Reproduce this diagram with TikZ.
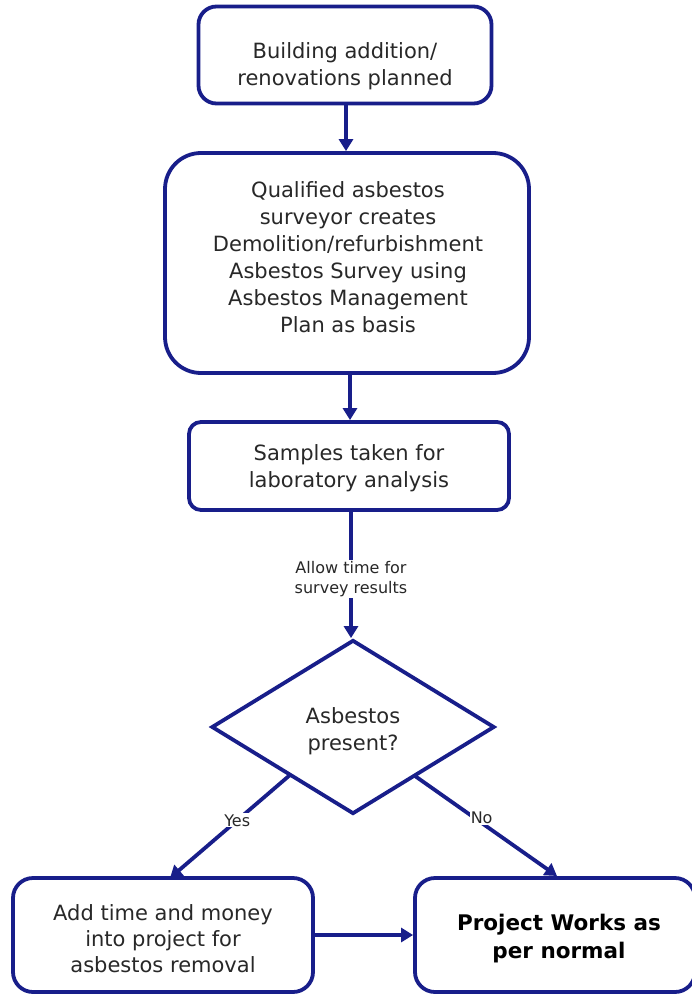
\documentclass[tikz,border=0pt]{standalone}
\usepackage{fontspec}
\setmainfont{DejaVu Sans}
\usetikzlibrary{arrows.meta,shapes.geometric}
\definecolor{navy}{RGB}{24,30,138}
\definecolor{txt}{RGB}{40,40,40}
\begin{document}
\begin{tikzpicture}[x=1pt,y=-1pt,
  box/.style={draw=navy,line width=3.8pt,fill=white,inner sep=0pt},
  btext/.style={text=txt,align=center,inner sep=0pt,
    font=\fontsize{21}{27}\selectfont},
  conn/.style={draw=navy,line width=3.8pt,-{Triangle[length=12pt,width=14pt]}},
  lbl/.style={fill=white,text=txt,align=center,inner sep=1pt,
    font=\fontsize{16}{20}\selectfont}]
\useasboundingbox (0,0) rectangle (691,995);
% shapes
\node[box,rounded corners=18pt,minimum width=293pt,minimum height=97pt] (b1) at (345,55) {};
\node[box,rounded corners=36pt,minimum width=364pt,minimum height=220pt] (b2) at (347,263) {};
\node[box,rounded corners=12pt,minimum width=320pt,minimum height=88pt] (b3) at (349,466) {};
\node[box,diamond,minimum width=283pt,minimum height=174pt] (d) at (353,727) {};
\node[box,rounded corners=20pt,minimum width=300pt,minimum height=114pt] (b4) at (163,935) {};
\node[box,rounded corners=20pt,minimum width=280pt,minimum height=114pt] (b5) at (555,935) {};
% texts
\node[btext] (t1) at (345,66) {Building addition/\\renovations planned};
\node[btext] (t2) at (348,257) {Qualified asbestos\\surveyor creates\\Demolition/refurbishment\\Asbestos Survey using\\Asbestos Management\\Plan as basis};
\node[btext] (t3) at (349,468) {Samples taken for\\laboratory analysis};
\node[btext] (td) at (353,731) {Asbestos\\present?};
\node[btext,font=\fontsize{21}{26}\selectfont] (t4) at (163,939) {Add time and money\\into project for\\asbestos removal};
\node[btext,text=black,font=\fontsize{21.5}{28}\selectfont\bfseries] (t5) at (559,939) {Project Works as\\per normal};
% connectors
\coordinate (ys) at (290,775);
\coordinate (ye) at (170,878);
\coordinate (ns) at (415,776);
\coordinate (ne) at (557,876);
\draw[conn] (b1.south -| 346,0) -- (b2.north -| 346,0);
\draw[conn] (b2.south -| 350,0) -- (b3.north -| 350,0);
\draw[conn] (b3.south -| 351,0) -- (d.north -| 351,0)
  node[lbl,pos=0.53] (lt) {Allow time for\\survey results};
\draw[conn] (ys) -- (ye) node[lbl,pos=0.44] (ly) {Yes};
\draw[conn] (ns) -- (ne) node[lbl,pos=0.42,xshift=7pt] (ln) {No};
\draw[conn] (b4.east) -- (b5.west);
\end{tikzpicture}
\end{document}
